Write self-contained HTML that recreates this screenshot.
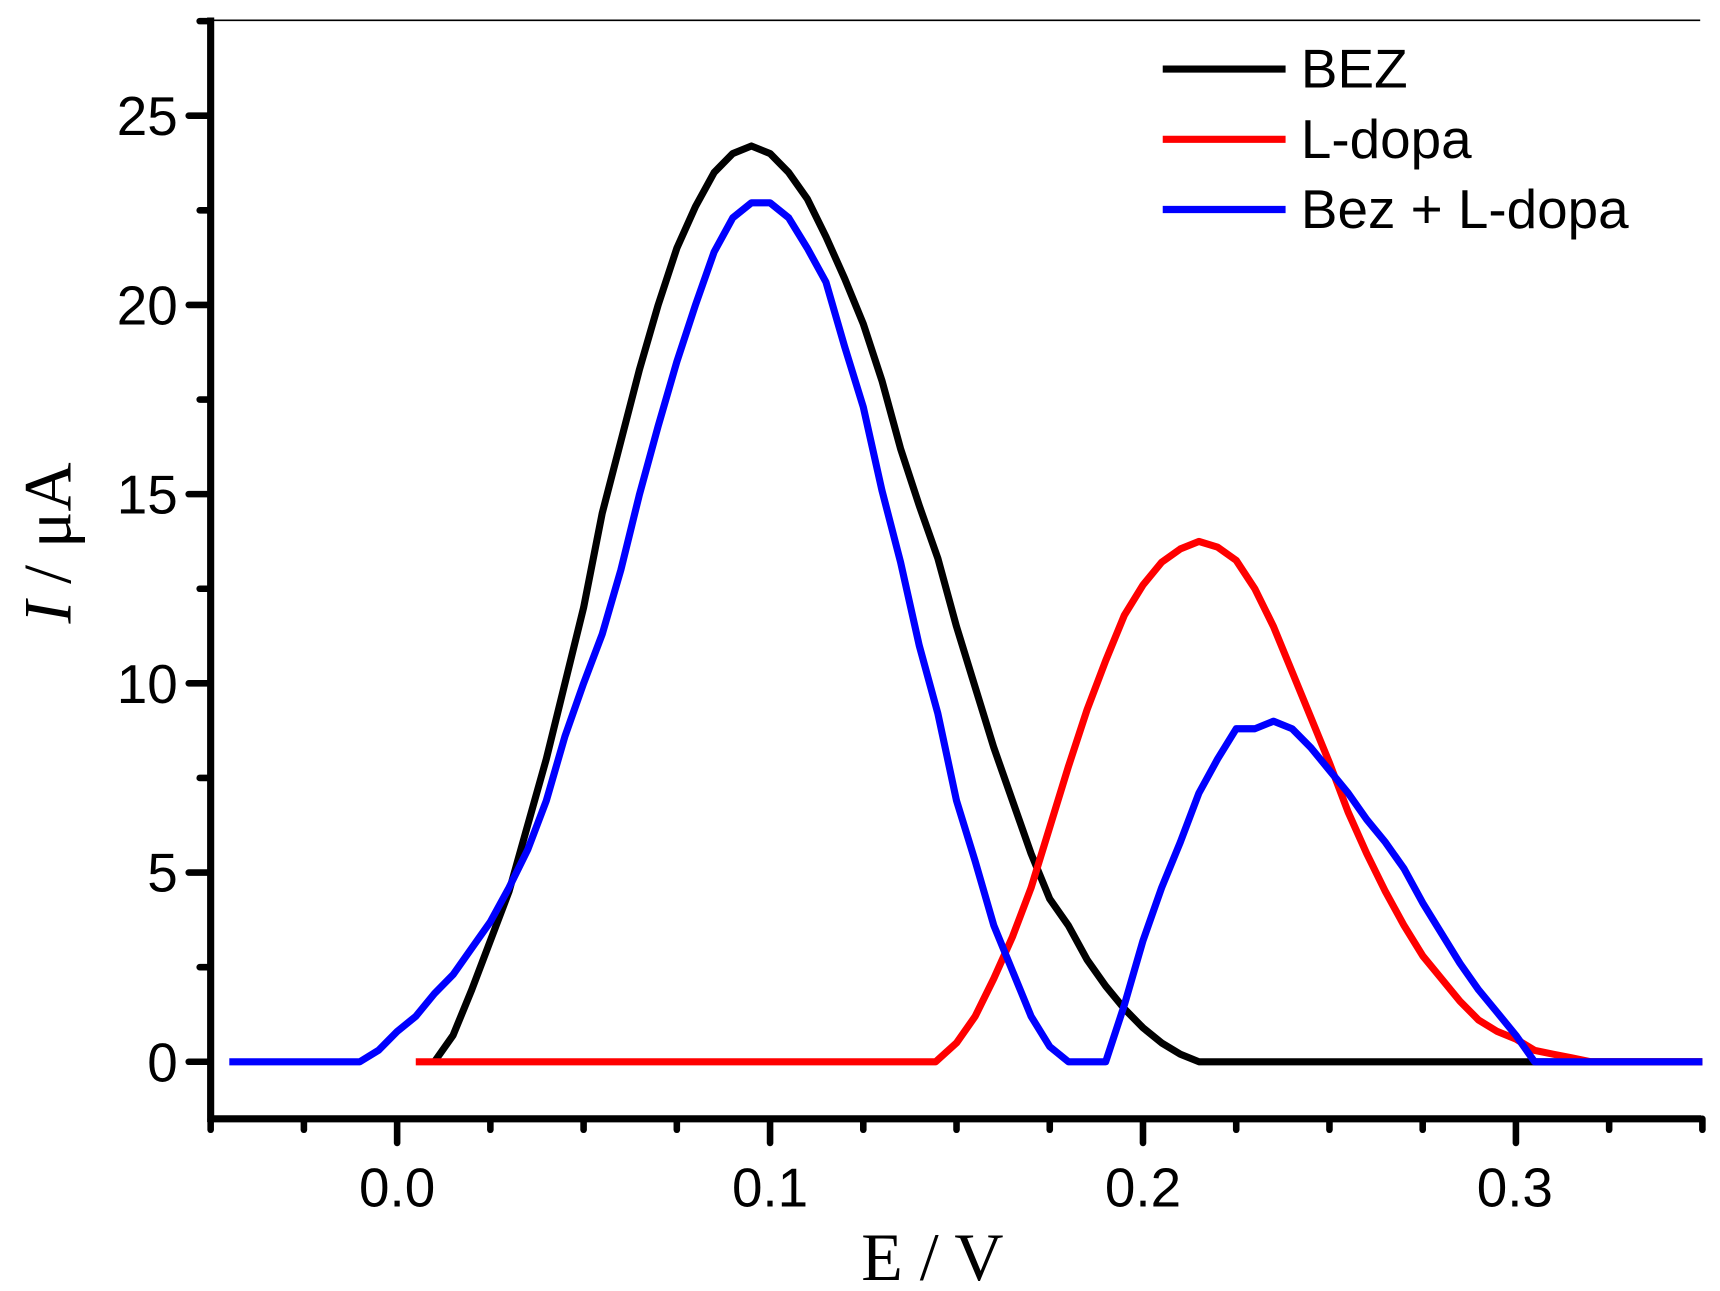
<!DOCTYPE html>
<html><head><meta charset="utf-8"><style>
html,body{margin:0;padding:0;background:#fff;}
svg{display:block;}
</style></head><body>
<svg id="s" width="1720" height="1291" viewBox="0 0 1568 1177" xmlns="http://www.w3.org/2000/svg">
<rect width="1568" height="1177" fill="#fff"/>
<line x1="192" y1="18.5" x2="1550" y2="18.5" stroke="#000" stroke-width="1.5"/>
<g id="ticks" stroke="#000" stroke-width="6" stroke-linecap="round"></g>
<line x1="192" y1="16" x2="192" y2="1023" stroke="#000" stroke-width="6.5"/>
<line x1="190" y1="1020" x2="1551" y2="1020" stroke="#000" stroke-width="6.5"/>
<g id="series" fill="none" stroke-width="6.5" stroke-linejoin="round"></g>
<g font-family="Liberation Sans, sans-serif" font-size="50" fill="#000">
<text x="162" y="123" text-anchor="end">25</text>
<text x="162" y="296" text-anchor="end">20</text>
<text x="162" y="468" text-anchor="end">15</text>
<text x="162" y="641" text-anchor="end">10</text>
<text x="162" y="813" text-anchor="end">5</text>
<text x="162" y="986" text-anchor="end">0</text>
<text x="362" y="1100" text-anchor="middle">0.0</text>
<text x="702" y="1100" text-anchor="middle">0.1</text>
<text x="1042" y="1100" text-anchor="middle">0.2</text>
<text x="1381" y="1100" text-anchor="middle">0.3</text>
<text x="1186" y="80">BEZ</text>
<text x="1186" y="144">L-dopa</text>
<text x="1186" y="208">Bez + L-dopa</text>
</g>
<line x1="1060" y1="63" x2="1172" y2="63" stroke="#000" stroke-width="6.5"/>
<line x1="1060" y1="127" x2="1172" y2="127" stroke="#f00" stroke-width="6.5"/>
<line x1="1060" y1="191" x2="1172" y2="191" stroke="#00f" stroke-width="6.5"/>
<text x="850" y="1167" text-anchor="middle" font-family="Liberation Serif, serif" font-size="62">E / V</text>
<text transform="translate(64,495) rotate(-90)" text-anchor="middle" font-family="Liberation Serif, serif" font-size="62"><tspan font-style="italic">I</tspan> / μA</text>
</svg>
<script>
var X=function(e){return 362+e*3400;},Y=function(i){return 968-i*34.5;};
var tk=document.getElementById('ticks'),h='';
for(var v=0;v<=27.5;v+=2.5){var y=Y(v),maj=(v%5==0);h+='<line x1="'+(maj?172:182)+'" y1="'+y+'" x2="192" y2="'+y+'"/>';}
for(var e=-0.05;e<=0.3501;e+=0.025){var x=X(e),maj=Math.abs(Math.round(e*10)-e*10)<1e-6;h+='<line x1="'+x+'" y1="1020" x2="'+x+'" y2="'+(maj?1042:1030)+'"/>';}
tk.innerHTML=h;
var bez=[[0.01,0],[0.015,0.7],[0.02,1.9],[0.03,4.5],[0.04,8],[0.05,12],[0.055,14.5],[0.065,18.3],[0.07,20],[0.075,21.5],[0.08,22.6],[0.085,23.5],[0.09,24],[0.095,24.2],[0.1,24],[0.105,23.5],[0.11,22.8],[0.115,21.8],[0.12,20.7],[0.125,19.5],[0.13,18],[0.135,16.2],[0.14,14.7],[0.145,13.3],[0.15,11.5],[0.155,9.9],[0.16,8.3],[0.165,6.9],[0.17,5.5],[0.175,4.3],[0.18,3.6],[0.185,2.7],[0.19,2.0],[0.195,1.4],[0.2,0.9],[0.205,0.5],[0.21,0.2],[0.215,0],[0.35,0]];
var red=[[0.005,0],[0.1444,0],[0.15,0.5],[0.155,1.2],[0.16,2.2],[0.165,3.3],[0.17,4.6],[0.175,6.2],[0.18,7.8],[0.185,9.3],[0.19,10.6],[0.195,11.8],[0.2,12.6],[0.205,13.2],[0.21,13.55],[0.215,13.75],[0.22,13.6],[0.225,13.25],[0.23,12.5],[0.235,11.5],[0.24,10.3],[0.245,9.1],[0.25,7.9],[0.255,6.6],[0.26,5.5],[0.265,4.5],[0.27,3.6],[0.275,2.8],[0.28,2.2],[0.285,1.6],[0.29,1.1],[0.295,0.8],[0.3,0.6],[0.305,0.3],[0.31,0.2],[0.315,0.1],[0.32,0],[0.35,0]];
var blue=[[-0.045,0],[-0.01,0],[-0.005,0.3],[0,0.8],[0.005,1.2],[0.01,1.8],[0.015,2.3],[0.02,3],[0.025,3.7],[0.03,4.6],[0.035,5.6],[0.04,6.9],[0.045,8.6],[0.05,10],[0.055,11.3],[0.06,13],[0.065,15],[0.07,16.8],[0.075,18.5],[0.08,20],[0.085,21.4],[0.09,22.3],[0.095,22.7],[0.1,22.7],[0.105,22.3],[0.11,21.5],[0.115,20.6],[0.12,18.9],[0.125,17.3],[0.13,15.1],[0.135,13.2],[0.14,11],[0.145,9.2],[0.15,6.9],[0.155,5.3],[0.16,3.6],[0.165,2.4],[0.17,1.2],[0.175,0.4],[0.18,0],[0.19,0],[0.195,1.5],[0.2,3.2],[0.205,4.6],[0.21,5.8],[0.215,7.1],[0.22,8],[0.225,8.8],[0.23,8.8],[0.235,9],[0.24,8.8],[0.245,8.3],[0.25,7.7],[0.255,7.1],[0.26,6.4],[0.265,5.8],[0.27,5.1],[0.275,4.2],[0.28,3.4],[0.285,2.6],[0.29,1.9],[0.295,1.3],[0.3,0.7],[0.305,0],[0.35,0]];
function pl(d,c){return '<polyline stroke="'+c+'" points="'+d.map(function(p){return X(p[0]).toFixed(1)+','+Y(p[1]).toFixed(1);}).join(' ')+'"/>';}
document.getElementById('series').innerHTML=pl(bez,'#000')+pl(red,'#f00')+pl(blue,'#00f');
</script>
</body></html>
